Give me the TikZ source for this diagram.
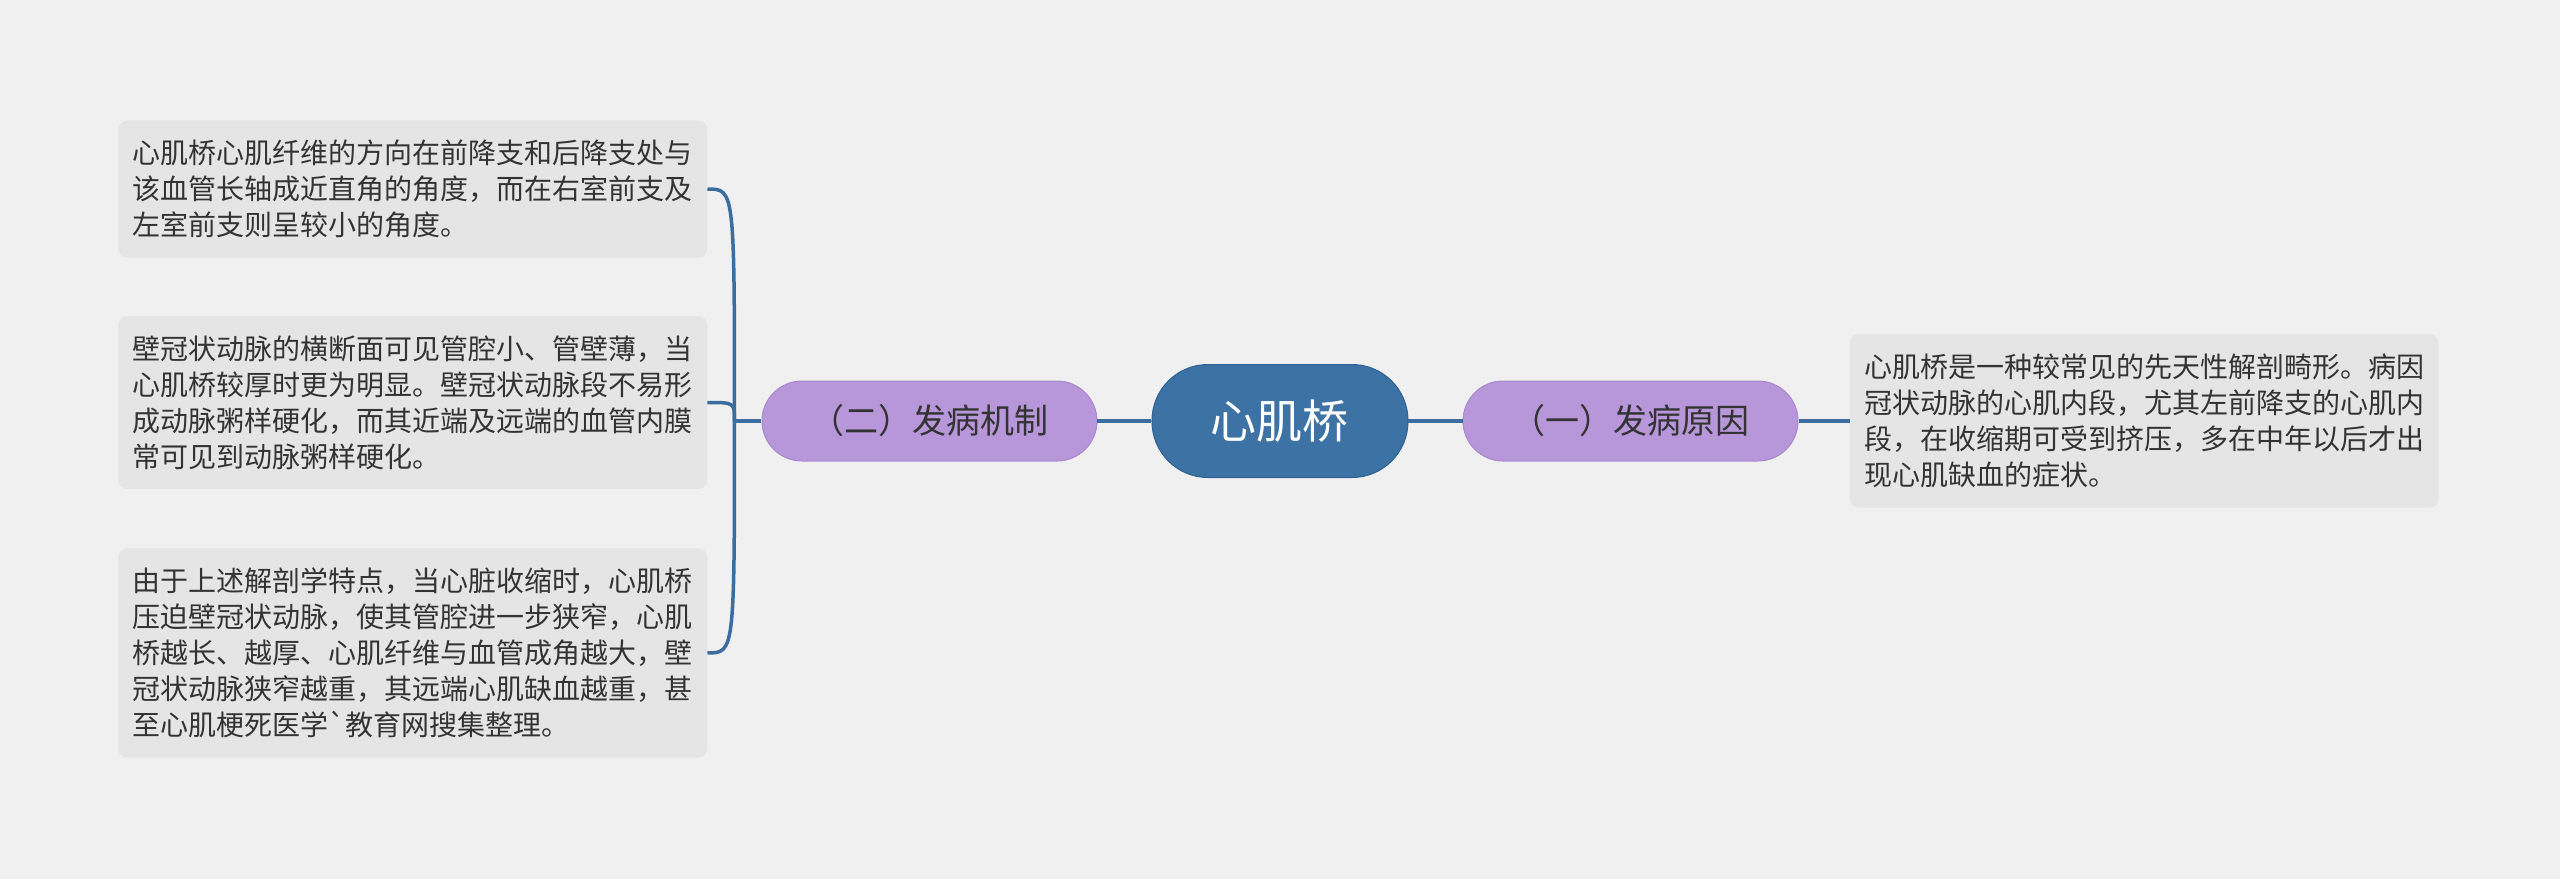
\documentclass[tikz,border=0pt]{standalone}
\usepackage{fontspec}
\setmainfont{Noto Sans CJK SC}
\usetikzlibrary{positioning}
\definecolor{bg}{HTML}{F0F0F0}
\definecolor{ink}{HTML}{333333}
\definecolor{rootblue}{HTML}{3D72A4}
\definecolor{rootedge}{HTML}{2F6092}
\definecolor{lilac}{HTML}{B797D9}
\definecolor{lilacedge}{HTML}{A98AD0}
\definecolor{notefill}{HTML}{E5E5E5}
\definecolor{linkblue}{HTML}{3B6E9F}
\tikzset{
  rootnode/.style={fill=rootblue, draw=rootedge, line width=1pt, rounded corners=56pt, minimum width=256pt, minimum height=113pt, text=white, font=\fontsize{46}{50}\selectfont},
  topicnode/.style={fill=lilac, draw=lilacedge, line width=1pt, rounded corners=40pt, minimum width=335pt, minimum height=80pt, text=ink, font=\fontsize{34}{40}\selectfont},
  notebox/.style={fill=notefill, rounded corners=9pt, text width=560pt, align=left, inner xsep=14.5pt, inner ysep=19.5pt, text=ink, font=\fontsize{28}{36}\selectfont},
  link/.style={draw=linkblue, line width=3.5pt},
}
\begin{document}
\begin{tikzpicture}[node distance=54pt]
\fill[bg] (-1280pt,-458pt) rectangle (1280pt,421pt);
\node[rootnode] (root) {心肌桥};
\node[topicnode, right=of root] (cause) {（一）发病原因};
\node[topicnode, left=of root] (mech) {（二）发病机制};
\node[notebox, right=51pt of cause] (causetxt) {心肌桥是一种较常见的先天性解剖畸形。病因\\冠状动脉的心肌内段，尤其左前降支的心肌内\\段，在收缩期可受到挤压，多在中年以后才出\\现心肌缺血的症状。};
\node[notebox, left=of mech, yshift=18.5pt] (mech2) {壁冠状动脉的横断面可见管腔小、管壁薄，当\\心肌桥较厚时更为明显。壁冠状动脉段不易形\\成动脉粥样硬化，而其近端及远端的血管内膜\\常可见到动脉粥样硬化。};
\node[notebox, above=58pt of mech2] (mech1) {心肌桥心肌纤维的方向在前降支和后降支处与\\该血管长轴成近直角的角度，而在右室前支及\\左室前支则呈较小的角度。};
\node[notebox, below=59pt of mech2] (mech3) {由于上述解剖学特点，当心脏收缩时，心肌桥\\压迫壁冠状动脉，使其管腔进一步狭窄，心肌\\桥越长、越厚、心肌纤维与血管成角越大，壁\\冠状动脉狭窄越重，其远端心肌缺血越重，甚\\至心肌梗死医学\textasciigrave 教育网搜集整理。};
\coordinate (hub) at ([xshift=-27pt]mech.west);
\draw[link](root)--(cause);\draw[link](root)--(mech);\draw[link](cause)--(causetxt);\draw[link](mech)--(hub);
\draw[link](mech1.east) .. controls (hub |- mech1.east) .. (hub);
\draw[link](mech2.east) .. controls (hub |- mech2.east) .. (hub);
\draw[link](mech3.east) .. controls (hub |- mech3.east) .. (hub);
\end{tikzpicture}
\end{document}
